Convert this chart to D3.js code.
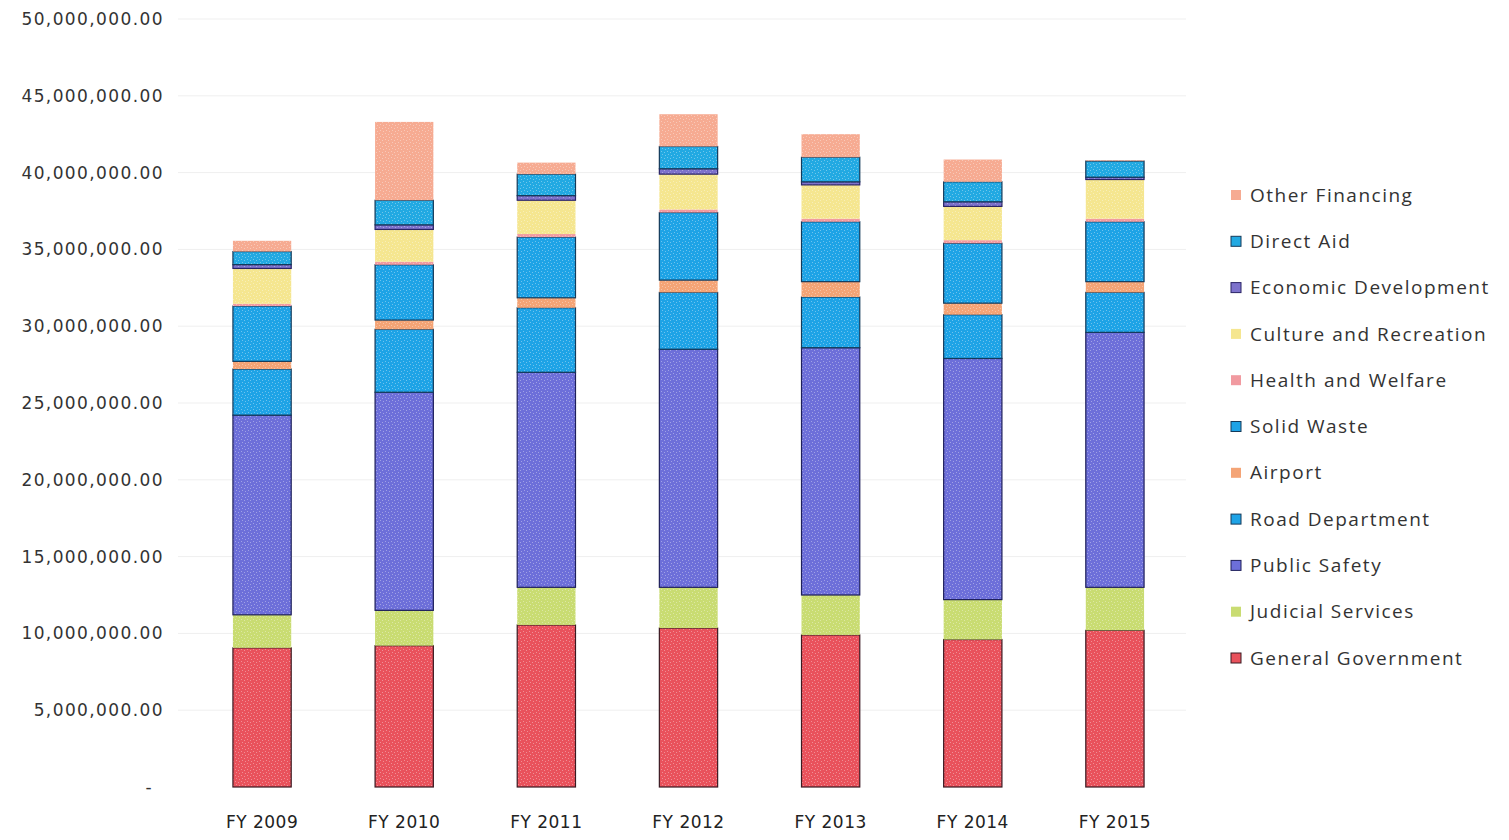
<!DOCTYPE html>
<html>
<head>
<meta charset="utf-8">
<script src="https://cdn.jsdelivr.net/npm/d3@7"></script>
<style>
  html, body { margin: 0; padding: 0; background: #ffffff; }
  svg { display: block; }
  .tick-label { font-family: "DejaVu Sans", sans-serif; font-size: 17px; fill: #333; letter-spacing: 1.4px; }
  .cat-label { font-family: "DejaVu Sans", sans-serif; font-size: 17px; fill: #222; letter-spacing: 0.5px; }
  .legend-label { font-family: "Open Sans", sans-serif; font-size: 19px; fill: #333; letter-spacing: 1.5px; }
</style>
</head>
<body>
<svg id="chart" width="1509" height="840"></svg>
<script>
// Fiscal years shown along the x axis
const years = ["FY 2009", "FY 2010", "FY 2011", "FY 2012", "FY 2013", "FY 2014", "FY 2015"];

// Expenditure by function, in millions of dollars (bottom of stack first)
const generalGovernment   = [9.06, 9.20, 10.55, 10.35, 9.90, 9.60, 10.20];
const judicialServices    = [2.15, 2.30, 2.45, 2.65, 2.60, 2.60, 2.80];
const publicSafety        = [13.00, 14.20, 14.00, 15.50, 16.10, 15.70, 16.60];
const roadDepartment      = [3.00, 4.10, 4.20, 3.70, 3.30, 2.85, 2.60];
const airport             = [0.50, 0.60, 0.65, 0.80, 1.00, 0.75, 0.70];
const solidWaste          = [3.60, 3.60, 3.95, 4.40, 3.90, 3.90, 3.90];
const healthAndWelfare    = [0.15, 0.20, 0.20, 0.20, 0.20, 0.20, 0.20];
const cultureAndRecreation= [2.30, 2.10, 2.20, 2.30, 2.20, 2.20, 2.55];
const economicDevelopment = [0.25, 0.30, 0.30, 0.35, 0.20, 0.30, 0.15];
const directAid           = [0.85, 1.60, 1.40, 1.45, 1.60, 1.30, 1.05];
const otherFinancing      = [0.70, 5.10, 0.75, 2.10, 1.50, 1.45, 0.05];

// Y axis tick values (dollars)
const yTicks = [0, 5e6, 10e6, 15e6, 20e6, 25e6, 30e6, 35e6, 40e6, 45e6, 50e6];

const seriesNames = [
  "General Government", "Judicial Services", "Public Safety", "Road Department",
  "Airport", "Solid Waste", "Health and Welfare", "Culture and Recreation",
  "Economic Development", "Direct Aid", "Other Financing"
];
const seriesValues = [
  generalGovernment, judicialServices, publicSafety, roadDepartment,
  airport, solidWaste, healthAndWelfare, cultureAndRecreation,
  economicDevelopment, directAid, otherFinancing
];
const seriesColors = [
  "#e9525c", "#c9dc72", "#6d6fd9", "#1ea3e6",
  "#f4a476", "#1ea3e6", "#f19aa0", "#f5e690",
  "#7d72cc", "#22a9e2", "#f6ab92"
];
const seriesOutline = [
  "#3a1a22", "none", "#1e1f5a", "#143a5a",
  "none", "#143a5a", "none", "none",
  "#2a2466", "#143a5a", "none"
];

// Build a table of rows (one per year) for d3.stack
const table = years.map((y, i) => {
  const row = { year: y };
  seriesNames.forEach((s, k) => { row[s] = seriesValues[k][i] * 1e6; });
  return row;
});

const stacked = d3.stack().keys(seriesNames)(table);

const svg = d3.select("#chart");

const x = d3.scaleBand()
  .domain(years)
  .range([191, 1186])
  .paddingInner(0.59)
  .paddingOuter(0.295);

const y = d3.scaleLinear()
  .domain([0, 50e6])
  .range([787, 19]);

// Speckled fill patterns, one per series
const defs = svg.append("defs");
seriesColors.forEach((c, k) => {
  const p = defs.append("pattern")
    .attr("id", "fill" + k)
    .attr("patternUnits", "userSpaceOnUse")
    .attr("width", 6).attr("height", 6);
  p.append("rect").attr("width", 6).attr("height", 6).attr("fill", c);
  const dots = [[1, 1], [4, 2], [2, 4], [5, 5]];
  dots.forEach(d => {
    p.append("rect").attr("x", d[0]).attr("y", d[1])
      .attr("width", 1).attr("height", 1)
      .attr("fill", "#ffffff").attr("opacity", 0.35);
  });
});

// Faint horizontal gridlines
svg.append("g")
  .selectAll("line")
  .data(yTicks.filter(t => t > 0))
  .join("line")
  .attr("x1", 178).attr("x2", 1186)
  .attr("y1", d => y(d)).attr("y2", d => y(d))
  .attr("stroke", "#efefef")
  .attr("stroke-width", 1);

// Y axis labels
const fmt = d3.format(",.2f");
svg.append("g")
  .selectAll("text")
  .data(yTicks)
  .join("text")
  .attr("class", "tick-label")
  .attr("x", d => d === 0 ? 153 : 164)
  .attr("y", d => y(d))
  .attr("dy", "0.35em")
  .attr("text-anchor", "end")
  .text(d => d === 0 ? "-" : fmt(d));

// Stacked bars
const layers = svg.append("g")
  .selectAll("g")
  .data(stacked)
  .join("g")
  .attr("fill", (d, k) => "url(#fill" + k + ")")
  .attr("stroke", (d, k) => seriesOutline[k])
  .attr("stroke-width", 1.2);

layers.selectAll("rect")
  .data(d => d)
  .join("rect")
  .attr("x", d => x(d.data.year))
  .attr("width", x.bandwidth())
  .attr("y", d => y(d[1]))
  .attr("height", d => Math.max(0, y(d[0]) - y(d[1])));

// Category labels
svg.append("g")
  .selectAll("text")
  .data(years)
  .join("text")
  .attr("class", "cat-label")
  .attr("x", d => x(d) + x.bandwidth() / 2)
  .attr("y", 828)
  .attr("text-anchor", "middle")
  .text(d => d);

// Legend (top entry is the top of the stack)
const legendOrder = seriesNames.map((s, k) => k).reverse();
const legend = svg.append("g")
  .selectAll("g")
  .data(legendOrder)
  .join("g")
  .attr("transform", (k, i) => `translate(1231, ${195 + i * 46.3})`);

legend.append("rect")
  .attr("x", 0).attr("y", -5)
  .attr("width", 10).attr("height", 10)
  .attr("fill", k => seriesColors[k])
  .attr("stroke", k => seriesOutline[k])
  .attr("stroke-width", 1);

legend.append("text")
  .attr("class", "legend-label")
  .attr("x", 19)
  .attr("dy", "0.35em")
  .text(k => seriesNames[k]);
</script>
</body>
</html>
